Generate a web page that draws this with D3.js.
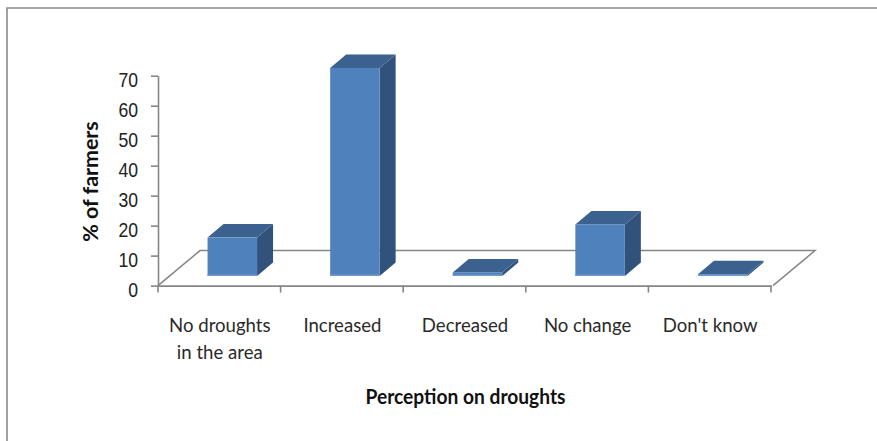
<!DOCTYPE html>
<html><head><meta charset="utf-8">
<script src="https://cdn.jsdelivr.net/npm/d3@7/dist/d3.min.js"></script>
<style>html,body{margin:0;padding:0;background:#fff}svg{display:block}</style>
</head><body><svg id="c" width="877" height="441"></svg>
<script>
const categories = ["No droughts|in the area","Increased","Decreased","No change","Don't know"];
const values = [12.8,69.4,1.2,17.2,0.6];
const yTicks = [0,10,20,30,40,50,60,70];
const yTitle = "% of farmers", xTitle = "Perception on droughts";

const svg = d3.select("#c");
const grey = "#868686";
// outer frame
svg.append("path").attr("d","M7,441V8H877").attr("fill","none").attr("stroke","#8a8a8a").attr("stroke-width",1.6);

const x0 = 158, x1 = 771, y0 = 285.6, y70 = 75.7, dx = 42, dy = -35;
const x = d3.scaleBand().domain(categories).range([x0,x1]);
const y = d3.scaleLinear().domain([0,70]).range([y0,y70]);

// floor
svg.append("path").attr("d",`M${x0},${y0}L${x0+dx},${y0+dy}H${x1+dx+2}L${x1+2},${y0}`)
  .attr("fill","none").attr("stroke",grey).attr("stroke-width",1.5);

// axes
const gy = svg.append("g").attr("transform",`translate(${x0},0)`)
  .call(d3.axisLeft(y).tickValues(yTicks).tickSize(7).tickSizeOuter(0).tickPadding(13));
const gx = svg.append("g").attr("transform",`translate(0,${y0})`)
  .call(d3.axisBottom(x).tickSize(0).tickSizeOuter(0).tickFormat(""));
gx.selectAll("line.edge").data(d3.range(categories.length+1)).enter().append("line").attr("class","edge")
  .attr("x1",i=>x0+i*x.step()).attr("x2",i=>x0+i*x.step()).attr("y1",0).attr("y2",7);
[gy,gx].forEach(g=>{g.selectAll("path,line").attr("stroke",grey).attr("stroke-width",1.6);});
gy.selectAll("text").attr("font-family","'Liberation Sans'").attr("font-size",20).attr("fill","#222")
  .attr("dy","0.52em").attr("x",0).attr("transform","translate(-20,0) scale(0.88,1)");

// bars
const bw = 49.5, ddx = 16, ddy = -13.5, lift = 9.6, shift = 13;
const bars = svg.append("g").selectAll("g").data(categories.map((c,i)=>({c,v:values[i]}))).enter().append("g");
bars.each(function(d){
  const g = d3.select(this);
  const l = x(d.c)+x.bandwidth()/2-bw/2+shift, r = l+bw;
  const b = y0-lift, t = y(d.v)-lift;
  g.append("path").attr("d",`M${r},${b}V${t}l${ddx},${ddy}V${b+ddy}Z`).attr("fill","#31527b");
  g.append("path").attr("d",`M${l},${t}H${r}l${ddx},${ddy}H${l+ddx}Z`).attr("fill","#3b618f");
  g.append("rect").attr("x",l).attr("y",t).attr("width",bw).attr("height",b-t).attr("fill","#4f81bd");
  g.append("rect").attr("x",l).attr("y",b-1.5).attr("width",bw).attr("height",1.5).attr("fill","#7099cc");
});

// category labels
const lab = svg.append("g").attr("font-family","Lato").attr("font-size",20).attr("fill","#2a2a2a").attr("text-anchor","middle");
categories.forEach(c=>{
  c.split("|").forEach((s,j)=>{
    lab.append("text").attr("transform",`translate(${x(c)+x.bandwidth()/2+0.5},${332+j*27}) scale(0.93,1)`).text(s);
  });
});
svg.append("text").attr("transform","translate(465.5,404) scale(0.96,1)").attr("text-anchor","middle").attr("font-family","Lato")
  .attr("font-weight",700).attr("font-size",20).attr("fill","#111").text(xTitle);
svg.append("text").attr("transform","translate(98,181.5) rotate(-90) scale(1.07,1)").attr("text-anchor","middle").attr("font-family","Lato")
  .attr("font-weight",700).attr("font-size",20).attr("fill","#111").text(yTitle);
</script></body></html>
